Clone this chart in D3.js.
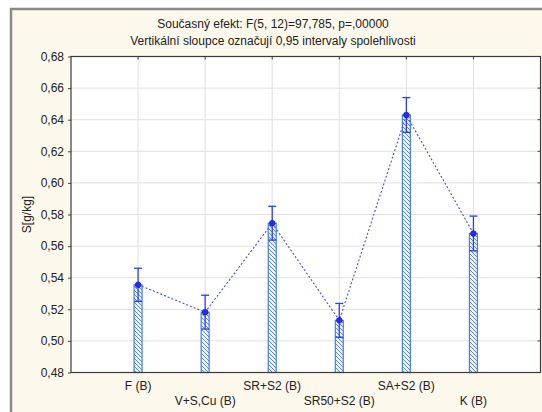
<!DOCTYPE html>
<html>
<head>
<meta charset="utf-8">
<script src="https://cdn.jsdelivr.net/npm/d3@7"></script>
<style>
  html, body { margin: 0; padding: 0; background: #ffffff; }
  svg { display: block; }
  text { font-family: "Liberation Sans", Arial, sans-serif; fill: #222; }
</style>
</head>
<body>
<svg id="chart" width="542" height="412"></svg>
<script>
// Group means of S [g/kg] with 0.95 confidence half-widths
const categories = ["F (B)", "V+S,Cu (B)", "SR+S2 (B)", "SR50+S2 (B)", "SA+S2 (B)", "K (B)"];
const means = [0.5355, 0.5182, 0.5745, 0.5130, 0.6430, 0.5680];
const ciHalf = [0.0105, 0.0107, 0.0107, 0.0107, 0.0110, 0.0110];
const yTicks = [0.48, 0.50, 0.52, 0.54, 0.56, 0.58, 0.60, 0.62, 0.64, 0.66, 0.68];
const titleLines = ["Současný efekt: F(5, 12)=97,785, p=,00000",
                    "Vertikální sloupce označují 0,95 intervaly spolehlivosti"];
const yLabel = "S[g/kg]";

const svg = d3.select("#chart");
const W = 542, H = 412;
const plot = { left: 71, top: 56.5, right: 540.5, bottom: 372.5 };
const fs = 12;

// outer panel
svg.append("rect").attr("x", 11).attr("y", 9).attr("width", W + 10).attr("height", H + 10)
  .attr("fill", "#fdf8ec").attr("stroke", "#8a8a8a").attr("stroke-width", 2.5);

const defs = svg.append("defs");
const pat = defs.append("pattern").attr("id", "hatch").attr("patternUnits", "userSpaceOnUse")
  .attr("width", 4).attr("height", 4);
pat.append("rect").attr("width", 4).attr("height", 4).attr("fill", "#eef4ff");
pat.append("path").attr("d", "M-1,-1 L5,5 M3,-1 L5,1 M-1,3 L1,5")
  .attr("stroke", "#4f8ae8").attr("stroke-width", 1);

const x = d3.scalePoint().domain(["", ...categories, " "]).range([plot.left, plot.right]);
const y = d3.scaleLinear().domain([0.48, 0.68]).range([plot.bottom, plot.top]);

// plot background
svg.append("rect").attr("x", plot.left).attr("y", plot.top)
  .attr("width", plot.right - plot.left).attr("height", plot.bottom - plot.top).attr("fill", "#ffffff");

// grid
svg.append("g").selectAll("line").data(yTicks.slice(1, -1)).join("line")
  .attr("x1", plot.left).attr("x2", plot.right).attr("y1", d => y(d)).attr("y2", d => y(d))
  .attr("stroke", "#e0e0e0").attr("stroke-width", 1);
svg.append("g").selectAll("line").data(categories).join("line")
  .attr("x1", d => x(d)).attr("x2", d => x(d)).attr("y1", plot.top).attr("y2", plot.bottom)
  .attr("stroke", "#e0e0e0").attr("stroke-width", 1);

// y axis
const yAxis = d3.axisLeft(y).tickValues(yTicks).tickSize(3).tickPadding(4)
  .tickFormat(d => d3.format(".2f")(d).replace(".", ","));
const gy = svg.append("g").attr("transform", `translate(${plot.left},0)`).call(yAxis);
gy.select(".domain").remove();
gy.selectAll("line").attr("stroke", "#444");
gy.selectAll("text").attr("font-size", fs).attr("fill", "#333")
  .attr("font-family", "Liberation Sans, Arial, sans-serif");

// inner mirror ticks (right & top)
svg.append("g").selectAll("line").data(yTicks).join("line")
  .attr("x1", plot.right - 3).attr("x2", plot.right).attr("y1", d => y(d)).attr("y2", d => y(d))
  .attr("stroke", "#444");
svg.append("g").selectAll("line").data(categories).join("line")
  .attr("x1", d => x(d)).attr("x2", d => x(d)).attr("y1", plot.top).attr("y2", plot.top + 3)
  .attr("stroke", "#444");

// x labels (staggered)
svg.append("g").selectAll("text").data(categories).join("text")
  .attr("x", d => x(d)).attr("y", (d, i) => i % 2 === 0 ? 390 : 404.5)
  .attr("text-anchor", "middle").attr("font-size", fs).attr("fill", "#333").text(d => d);

// bars
const bw = 8;
svg.append("g").selectAll("rect").data(categories).join("rect")
  .attr("x", d => x(d) - bw / 2).attr("y", (d, i) => y(means[i]))
  .attr("width", bw).attr("height", (d, i) => plot.bottom - y(means[i]))
  .attr("fill", "url(#hatch)").attr("stroke", "#3f7ff0").attr("stroke-width", 1.2);

// error bars
const eb = svg.append("g").attr("stroke", "#2b3cff").attr("stroke-width", 1.3);
categories.forEach((c, i) => {
  const cx = x(c), lo = y(means[i] - ciHalf[i]), hi = y(means[i] + ciHalf[i]);
  eb.append("line").attr("x1", cx).attr("x2", cx).attr("y1", lo).attr("y2", hi);
  eb.append("line").attr("x1", cx - 4).attr("x2", cx + 4).attr("y1", hi).attr("y2", hi);
  eb.append("line").attr("x1", cx - 4).attr("x2", cx + 4).attr("y1", lo).attr("y2", lo);
});

// mean line
const line = d3.line().x((d, i) => x(categories[i])).y(d => y(d));
svg.append("path").datum(means).attr("d", line).attr("fill", "none")
  .attr("stroke", "#4a4aff").attr("stroke-width", 1.1).attr("stroke-dasharray", "2,2");
svg.append("g").selectAll("circle").data(means).join("circle")
  .attr("cx", (d, i) => x(categories[i])).attr("cy", d => y(d)).attr("r", 2.8)
  .attr("fill", "#2a2af0").attr("stroke", "#1a1ad0").attr("stroke-width", 0.8);

// frame
svg.append("rect").attr("x", plot.left).attr("y", plot.top)
  .attr("width", plot.right - plot.left).attr("height", plot.bottom - plot.top)
  .attr("fill", "none").attr("stroke", "#3a3a3a").attr("stroke-width", 1.2);

// titles
svg.append("g").selectAll("text").data(titleLines).join("text")
  .attr("x", 273).attr("y", (d, i) => 28 + i * 17)
  .attr("text-anchor", "middle").attr("font-size", fs).attr("fill", "#222").text(d => d);

svg.append("text").attr("transform", `translate(31,${(plot.top + plot.bottom) / 2}) rotate(-90)`)
  .attr("text-anchor", "middle").attr("font-size", fs).attr("fill", "#333").text(yLabel);
</script>
</body>
</html>
